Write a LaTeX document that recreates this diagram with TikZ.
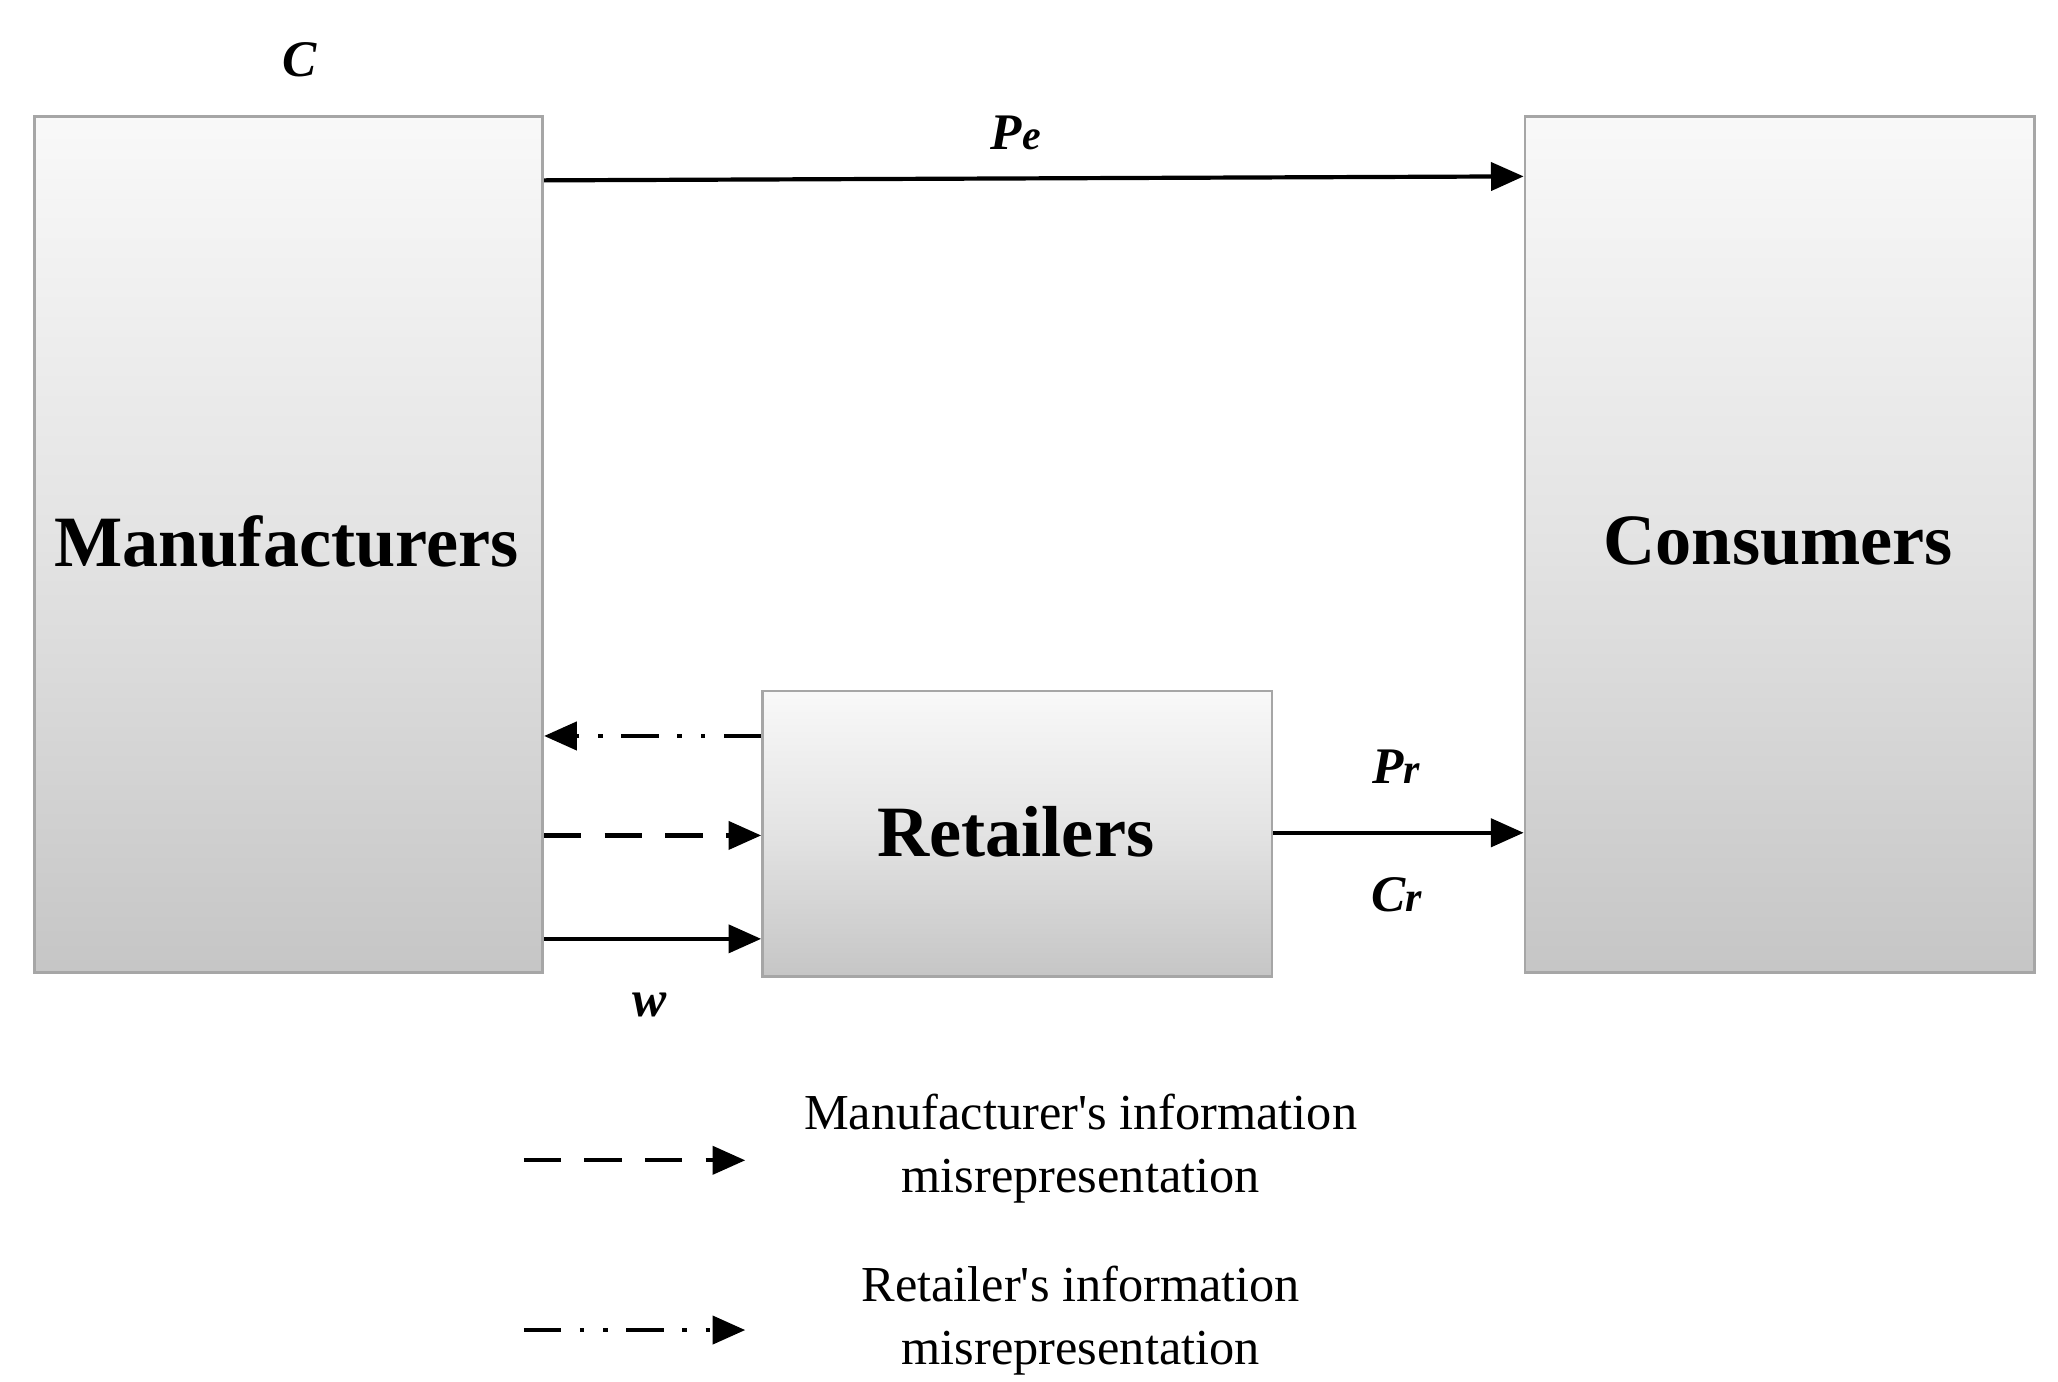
\documentclass[tikz,border=0pt]{standalone}
\usepackage{fontspec}
\setmainfont{Liberation Serif}
\usetikzlibrary{arrows.meta}
\begin{document}
\begin{tikzpicture}[x=0.01cm,y=-0.01cm,
 box/.style={draw=gray!70,line width=0.6pt,top color=white!95!gray,bottom color=gray!45,middle color=gray!22,inner sep=0pt,anchor=north west},
 big/.style={font=\fontsize{15.5}{18}\selectfont\bfseries},
 lab/.style={font=\fontsize{11}{13}\selectfont\bfseries\itshape},
 leg/.style={font=\fontsize{10.8}{13.5}\selectfont,align=center},
 arr/.style={line width=0.9pt,-{Triangle[length=7pt,width=6pt]}},
 dsh/.style={arr,dash pattern=on 8pt off 5pt},
 dd/.style={arr,dash pattern=on 8pt off 4pt on 1pt off 4pt on 1pt off 4pt}]
\useasboundingbox (0,0) rectangle (1552,1041.5);
\node[box,minimum width=3.83cm,minimum height=6.45cm] (m) at (25,87) {};
\node[box,minimum width=3.84cm,minimum height=6.45cm] (cn) at (1149,87) {};
\node[box,minimum width=3.84cm,minimum height=2.15cm] (r) at (574,520) {};
\node[big] (mt) at (216,408) {Manufacturers};
\node[big] (ct) at (1341,408) {Consumers};
\node[big] (rt) at (766,627) {Retailers};
\draw[arr] (m.east |- 0,136) -- (cn.west |- 0,133);
\draw[dd] (r.west |- 0,555) -- (m.east |- 0,555);
\draw[dsh] (m.east |- 0,630) -- (r.west |- 0,630);
\draw[arr] (m.east |- 0,708) -- (r.west |- 0,708);
\draw[arr] (r.east |- 0,628) -- (cn.west |- 0,628);
\node[lab] (c) at (226,45) {C};
\node[lab] (pe) at (766,100) {P{\fontsize{9}{9}\selectfont e}};
\node[lab] (w) at (490,758) {w};
\node[lab] (pr) at (1053,578) {P{\fontsize{9}{9}\selectfont r}};
\node[lab] (cr) at (1053,675) {C{\fontsize{9}{9}\selectfont r}};
\coordinate (l1) at (395,875); \coordinate (l1e) at (562,875);
\coordinate (l2) at (395,1003); \coordinate (l2e) at (562,1003);
\draw[dsh] (l1) -- (l1e);
\draw[dd] (l2) -- (l2e);
\node[leg] (t1) at (815,866) {Manufacturer\textquotesingle s information\\misrepresentation};
\node[leg] (t2) at (815,996) {Retailer\textquotesingle s information\\misrepresentation};
\end{tikzpicture}
\end{document}
